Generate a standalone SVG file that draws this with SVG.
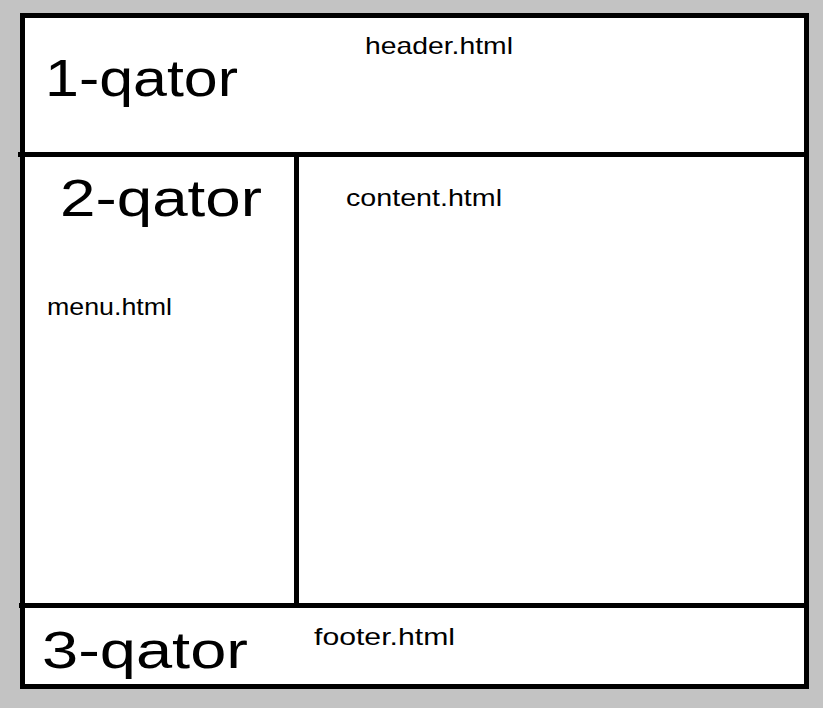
<svg xmlns="http://www.w3.org/2000/svg" width="823" height="708" viewBox="0 0 823 708">
<style>
.big{font-family:"Liberation Sans","DejaVu Sans",sans-serif;font-size:52px;fill:#000}
.small{font-family:"Liberation Sans","DejaVu Sans",sans-serif;font-size:24px;fill:#000}
.ln{stroke:#000;stroke-width:5;fill:none}
.page{fill:#fff;stroke:#000;stroke-width:5}
</style>
<rect x="0" y="0" width="823" height="708" fill="#c3c3c3"/>
<g id="frame">
<rect x="22.5" y="15.5" width="784" height="671" class="page"/>
</g>
<g id="connectors">
<line x1="18" y1="154.5" x2="806" y2="154.5" class="ln"/>
<line x1="19" y1="605.5" x2="806" y2="605.5" class="ln"/>
<line x1="296.5" y1="154" x2="296.5" y2="605" class="ln"/>
</g>
<g id="header">
<text class="big" x="45" y="96" textLength="193" lengthAdjust="spacingAndGlyphs">1-qator</text>
<text class="small" x="365" y="54" textLength="148" lengthAdjust="spacingAndGlyphs">header.html</text>
</g>
<g id="menu">
<text class="big" x="60" y="216" textLength="202" lengthAdjust="spacingAndGlyphs">2-qator</text>
<text class="small" x="47" y="315" textLength="125" lengthAdjust="spacingAndGlyphs">menu.html</text>
</g>
<g id="content">
<text class="small" x="346" y="206" textLength="156" lengthAdjust="spacingAndGlyphs">content.html</text>
</g>
<g id="footer">
<text class="big" x="42" y="668" textLength="206" lengthAdjust="spacingAndGlyphs">3-qator</text>
<text class="small" x="314" y="645" textLength="141" lengthAdjust="spacingAndGlyphs">footer.html</text>
</g>
</svg>
